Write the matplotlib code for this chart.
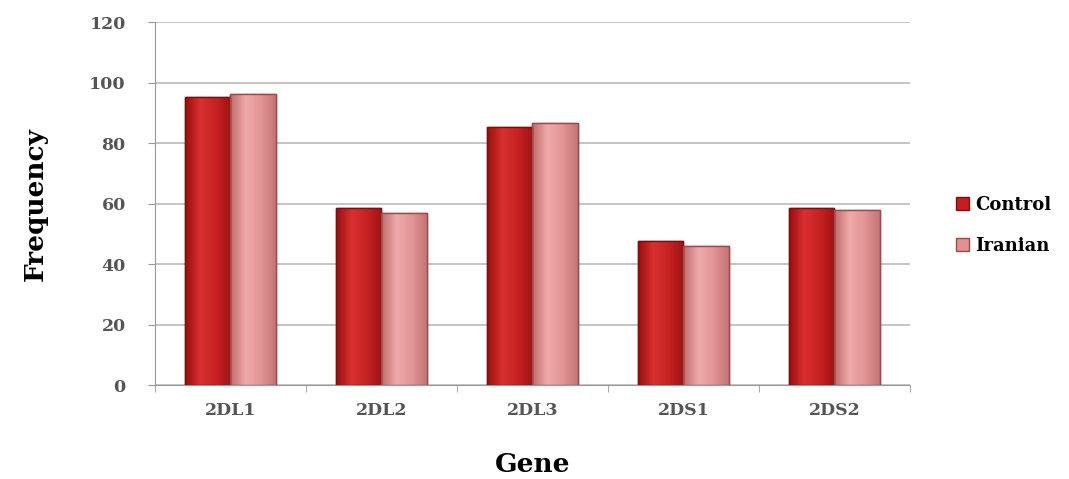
import numpy as np
import matplotlib.pyplot as plt
from matplotlib.colors import LinearSegmentedColormap

# values
genes = ['2DL1', '2DL2', '2DL3', '2DS1', '2DS2']
control = [95.3, 58.4, 85.3, 47.6, 58.4]
iranian = [96.3, 57.0, 86.5, 46.0, 58.0]

plt.rcParams['font.family'] = ['DejaVu Serif']

fig = plt.figure(figsize=(10.69, 4.79), dpi=100)
ax = fig.add_axes([0.145, 0.196, 0.706, 0.758])

x = np.arange(len(genes))
w = 0.3
b1 = ax.bar(x - w / 2, control, w, color='#c41e1e', edgecolor='#7a1010', linewidth=1.0,
            label='Control', zorder=3)
b2 = ax.bar(x + w / 2, iranian, w, color='#e39090', edgecolor='#9a4a4a', linewidth=1.0,
            label='Iranian', zorder=3)

# cylinder-like shading on each bar
cmap1 = LinearSegmentedColormap.from_list('c1', ['#9a0e0e', '#d93030', '#c82222', '#a01414'])
cmap2 = LinearSegmentedColormap.from_list('c2', ['#c06a6a', '#eeaaaa', '#e39595', '#c47676'])
grad = np.linspace(0, 1, 64).reshape(1, -1)
for bars, cm in ((b1, cmap1), (b2, cmap2)):
    for p in bars:
        x0, y0 = p.get_x(), p.get_y()
        im = ax.imshow(grad, cmap=cm, aspect='auto', zorder=3.5,
                       extent=(x0, x0 + p.get_width(), y0, y0 + p.get_height()))
        im.set_clip_path(p)
        edge = plt.Rectangle((x0, y0), p.get_width(), p.get_height(), fill=False,
                             edgecolor=p.get_edgecolor(), linewidth=1.0, zorder=4)
        ax.add_patch(edge)

ax.set_xlim(-0.5, len(genes) - 0.5)
ax.set_ylim(0, 120)
ax.set_yticks(range(0, 121, 20))
ax.set_xticks(x)
ax.set_xticklabels(genes)
ax.set_xticks(np.arange(-0.5, len(genes)), minor=True)
ax.tick_params(axis='x', which='major', length=0, pad=12)
ax.tick_params(axis='x', which='minor', length=5, color='#999999')
ax.tick_params(axis='y', length=5, color='#999999', pad=16)
for lab in ax.get_xticklabels() + ax.get_yticklabels():
    lab.set_fontsize(12.5)
    lab.set_fontweight('bold')
    lab.set_color('#555555')

ax.grid(axis='y', color='#bbbbbb', linewidth=1.2, zorder=0)
ax.spines['top'].set_visible(False)
ax.spines['right'].set_visible(False)
ax.spines['left'].set_color('#999999')
ax.spines['bottom'].set_color('#999999')

ax.set_ylabel('Frequency', fontsize=19, fontweight='bold', labelpad=30)
ax.set_xlabel('Gene', fontsize=19, fontweight='bold', labelpad=24)

ax.legend(loc='center left', bbox_to_anchor=(1.04, 0.44), frameon=False,
          handlelength=0.7, handleheight=0.7, handletextpad=0.35,
          labelspacing=1.3, prop={'weight': 'bold', 'size': 13})

fig.savefig('out.png', dpi=100)
